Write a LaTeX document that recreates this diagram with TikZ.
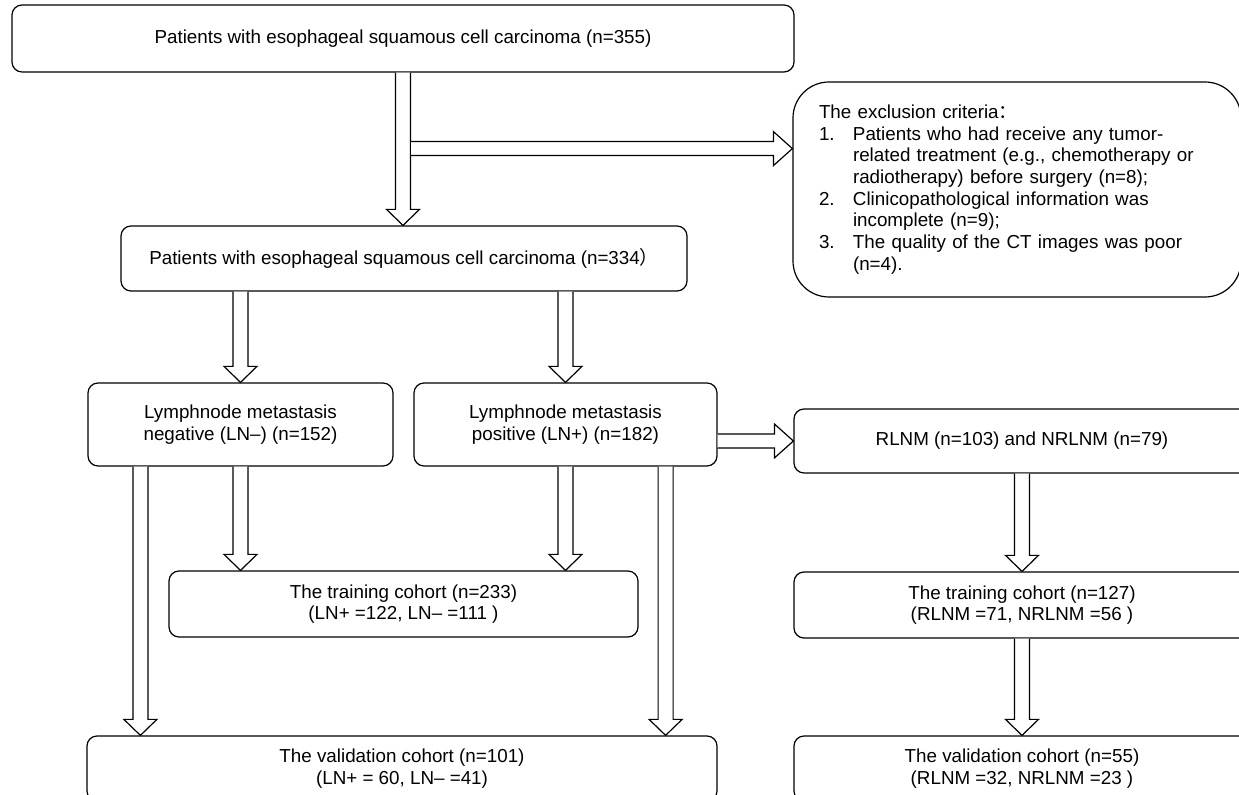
\documentclass[tikz,border=0pt]{standalone}
\usepackage{fontspec}
\setmainfont{Liberation Sans}
\newfontfamily\boxfont{Liberation Sans}
\newfontfamily\cjk{Noto Sans CJK SC}
\usepackage{tikz}
\usetikzlibrary{calc, positioning}

% hollow block arrows, #1 = start, #2 = tip
\newcommand{\fatdown}[2]{%
  \draw[fat] ($(#1)+(-7.5,0)$) -- ($(#2)+(-7.5,-16)$) -- ($(#2)+(-16.5,-16)$) -- (#2)
    -- ($(#2)+(16.5,-16)$) -- ($(#2)+(7.5,-16)$) -- ($(#1)+(7.5,0)$);}
\newcommand{\fatright}[2]{%
  \draw[fat] ($(#1)+(0,-7)$) -- ($(#2)+(-19,-7)$) -- ($(#2)+(-19,-17)$) -- (#2)
    -- ($(#2)+(-19,17)$) -- ($(#2)+(-19,7)$) -- ($(#1)+(0,7)$);}

\begin{document}
\begin{tikzpicture}[
    x=0.5pt, y=-0.5pt,
    box/.style={rectangle, rounded corners=5pt, draw, line width=0.6pt, align=center,
      inner sep=0pt, font=\boxfont\fontsize{9.4}{10.85}\selectfont},
    wide/.style={box, minimum width=228pt, minimum height=32.5pt},
    fat/.style={line width=0.6pt, fill=white, line join=miter}
]
\fill[white] (0,0) rectangle (1239,795);
\useasboundingbox (0,0) rectangle (1239,795);
\clip (0,0) rectangle (1239,795);

\node[box, minimum width=391pt, minimum height=33.5pt] (all) at (403,38.5)
  {Patients with esophageal squamous cell carcinoma (n=355)};
\node[box, rounded corners=18pt, align=left, text width=198pt, inner xsep=13pt,
  minimum height=107.5pt] (excl) at (1017,189.5)
  {The exclusion criteria{\cjk ：}\\
   \makebox[17pt][l]{1.}Patients who had receive any tumor-\\
   \hspace*{17pt}related treatment (e.g., chemotherapy or\\
   \hspace*{17pt}radiotherapy) before surgery (n=8);\\
   \makebox[17pt][l]{2.}Clinicopathological information was\\
   \hspace*{17pt}incomplete (n=9);\\
   \makebox[17pt][l]{3.}The quality of the CT images was poor\\
   \hspace*{17pt}(n=4).};
\node[box, minimum width=283pt, minimum height=32.5pt] (kept) at (404,258.5)
  {Patients with esophageal squamous cell carcinoma (n=334{\cjk ）}};
\node[box, minimum width=152.5pt, minimum height=41.5pt] (neg) at (240.5,424.5)
  {Lymphnode metastasis\\negative (LN–) (n=152)};
\node[box, minimum width=151.5pt, minimum height=41.5pt] (pos) at (565.5,424.5)
  {Lymphnode metastasis\\positive (LN+) (n=182)};
\node[wide, minimum height=32pt] (rlnm) at (1022,441) {RLNM (n=103) and NRLNM (n=79)};
\node[box, minimum width=234.5pt, minimum height=33pt] (trainL) at (403.5,604)
  {The training cohort (n=233)\\(LN+ =122, LN– =111 )};
\node[wide, minimum height=33pt] (trainR) at (1022,605)
  {The training cohort (n=127)\\(RLNM =71, NRLNM =56 )};
\node[box, minimum width=315pt, minimum height=32.5pt] (valL) at (402,768.5)
  {The validation cohort (n=101)\\(LN+ = 60, LN– =41)};
\node[wide] (valR) at (1022,768.5)
  {The validation cohort (n=55)\\(RLNM =32, NRLNM =23 )};

\coordinate (branch) at ($(all.south)+(8,76)$);
\coordinate (negdown) at ($(neg.south west)+(53,0)$);
\coordinate (posdown) at ($(pos.south east)+(-52,0)$);

\fatdown{all.south}{all.south |- kept.north}
\fatright{branch}{branch -| excl.west}
\fatdown{neg.north |- kept.south}{neg.north}
\fatdown{pos.north |- kept.south}{pos.north}
\fatright{pos.east |- rlnm.west}{rlnm.west}
\fatdown{neg.south}{neg.south |- trainL.north}
\fatdown{pos.south}{pos.south |- trainL.north}
\fatdown{negdown}{negdown |- valL.north}
\fatdown{posdown}{posdown |- valL.north}
\fatdown{rlnm.south}{trainR.north}
\fatdown{trainR.south}{valR.north}
\end{tikzpicture}
\end{document}
